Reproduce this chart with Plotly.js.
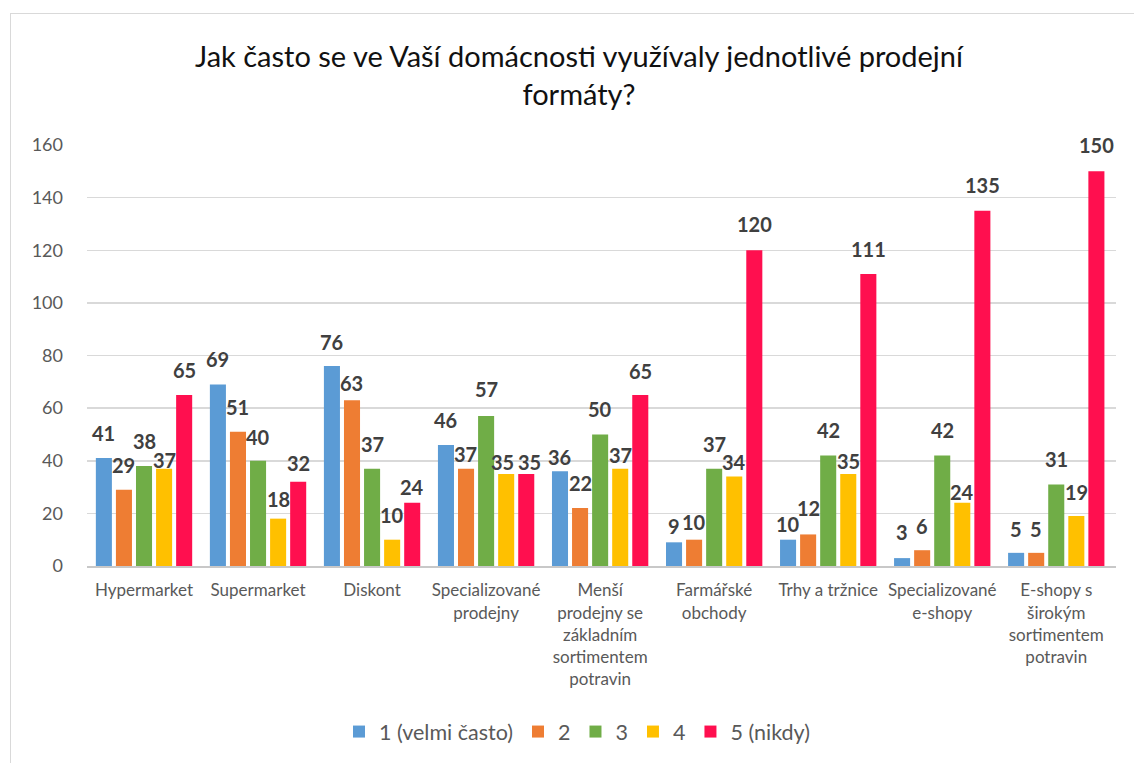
<!DOCTYPE html>
<html>
<head>
<meta charset="utf-8">
<script src="https://cdn.plot.ly/plotly-3.0.1.min.js"></script>
<style>
  html, body { margin: 0; padding: 0; background: #fff; overflow: hidden; }
  #chart { position: absolute; left: 0; top: 0; width: 1134px; height: 763px; }
  #frame { position: absolute; left: 10px; top: 13px; width: 1200px; height: 800px;
           border: 1px solid #d9d9d9; pointer-events: none; }
</style>
</head>
<body>
<div id="chart"></div>
<div id="frame"></div>
<script>
const categories = [
  "Hypermarket",
  "Supermarket",
  "Diskont",
  "Specializované<br>prodejny",
  "Menší<br>prodejny se<br>základním<br>sortimentem<br>potravin",
  "Farmářské<br>obchody",
  "Trhy a tržnice",
  "Specializované<br>e-shopy",
  "E-shopy s<br>širokým<br>sortimentem<br>potravin"
];
const seriesNames = ["1 (velmi často)", "2", "3", "4", "5 (nikdy)"];
const s1 = [41, 69, 76, 46, 36, 9, 10, 3, 5];
const s2 = [29, 51, 63, 37, 22, 10, 12, 6, 5];
const s3 = [38, 40, 37, 57, 50, 37, 42, 42, 31];
const s4 = [37, 18, 10, 35, 37, 34, 35, 24, 19];
const s5 = [65, 32, 24, 35, 65, 120, 111, 135, 150];
const yTicks = [0, 20, 40, 60, 80, 100, 120, 140, 160];

// style only: how far (px) each value label sits above its bar, as placed in the original
const labelLift = [
  [25, 25, 24, 25, 14, 16, 16, 26, 24],
  [25, 25, 17, 15, 25, 18, 26, 24, 24],
  [25, 24, 25, 27, 25, 25, 25, 25, 25],
  [ 9, 20, 25, 12, 14, 15, 13, 11, 24],
  [25, 19, 16, 12, 24, 26, 25, 26, 26]
];
// style only: small sideways nudges (px) of labels, as placed in the original
const labelNudge = [
  [0, 0, 0,  0, 0, 0, 0, 0, 0],
  [0, 0, 0,  0, 0, 0, 0, 0, 0],
  [0, 0, 0,  0, 0, 0, 0, 0, 0],
  [0, 0, 0, -4, 0, 0, 0, 0, 0],
  [0, 0, 0,  3, 0, 0, 0, 0, 0]
];

const colors = ["#5B9BD5", "#EE7D33", "#70AD47", "#FFC000", "#FF0F4F"];
const values = [s1, s2, s3, s4, s5];

const FONT = "Lato, 'Open Sans', sans-serif";
const W = 1134, H = 763;
const margin = { l: 87, r: 18, t: 145, b: 196 };
const bargap = 0.12;
const catWidthPx = (W - margin.l - margin.r) / categories.length;
const slotPx = catWidthPx * (1 - bargap) / values.length;

const traces = values.map((v, i) => ({
  type: "bar",
  name: seriesNames[i],
  x: categories,
  y: v,
  marker: { color: colors[i] },
  hoverinfo: "skip"
}));

const annotations = [];
values.forEach((v, i) => {
  v.forEach((val, j) => {
    annotations.push({
      x: categories[j], y: val, xref: "x", yref: "y",
      text: "<b>" + val + "</b>",
      showarrow: false,
      xanchor: "center", yanchor: "middle",
      xshift: (i - (values.length - 1) / 2) * slotPx + labelNudge[i][j],
      yshift: labelLift[i][j],
      font: { family: FONT, size: 20, color: "#404040" }
    });
  });
});

const layout = {
  width: W,
  height: H,
  paper_bgcolor: "#ffffff",
  plot_bgcolor: "#ffffff",
  margin: margin,
  barmode: "group",
  bargap: bargap,
  bargroupgap: 0.2,
  font: { family: FONT, color: "#595959" },
  title: {
    text: "Jak často se ve Vaší domácnosti využívaly jednotlivé prodejní<br>formáty?",
    font: { family: FONT, size: 29, color: "#111111" },
    x: 579 / W, xanchor: "center", xref: "container",
    y: 1 - 67 / H, yref: "container", yanchor: "middle"
  },
  xaxis: {
    type: "category",
    tickfont: { size: 17, color: "#595959" },
    showline: true, linecolor: "#c8c8c8", linewidth: 2,
    ticks: "", tickangle: 0,
    ticklabelstandoff: 8,
    showgrid: false,
    automargin: false
  },
  yaxis: {
    range: [0, 160],
    tickvals: yTicks,
    ticktext: yTicks.map(String),
    tickfont: { size: 18, color: "#595959" },
    showgrid: true, gridcolor: "#d9d9d9", gridwidth: 1.5,
    zeroline: false,
    showline: false,
    ticks: "",
    ticklabelstandoff: 23,
    automargin: false
  },
  annotations: annotations,
  showlegend: true,
  legend: {
    orientation: "h",
    x: (577 - margin.l) / (W - margin.l - margin.r), xanchor: "center",
    y: -0.39, yanchor: "middle",
    font: { size: 21.5, color: "#595959" },
    traceorder: "normal",
    itemclick: false
  }
};

Plotly.newPlot("chart", traces, layout, { staticPlot: true });
</script>
</body>
</html>
